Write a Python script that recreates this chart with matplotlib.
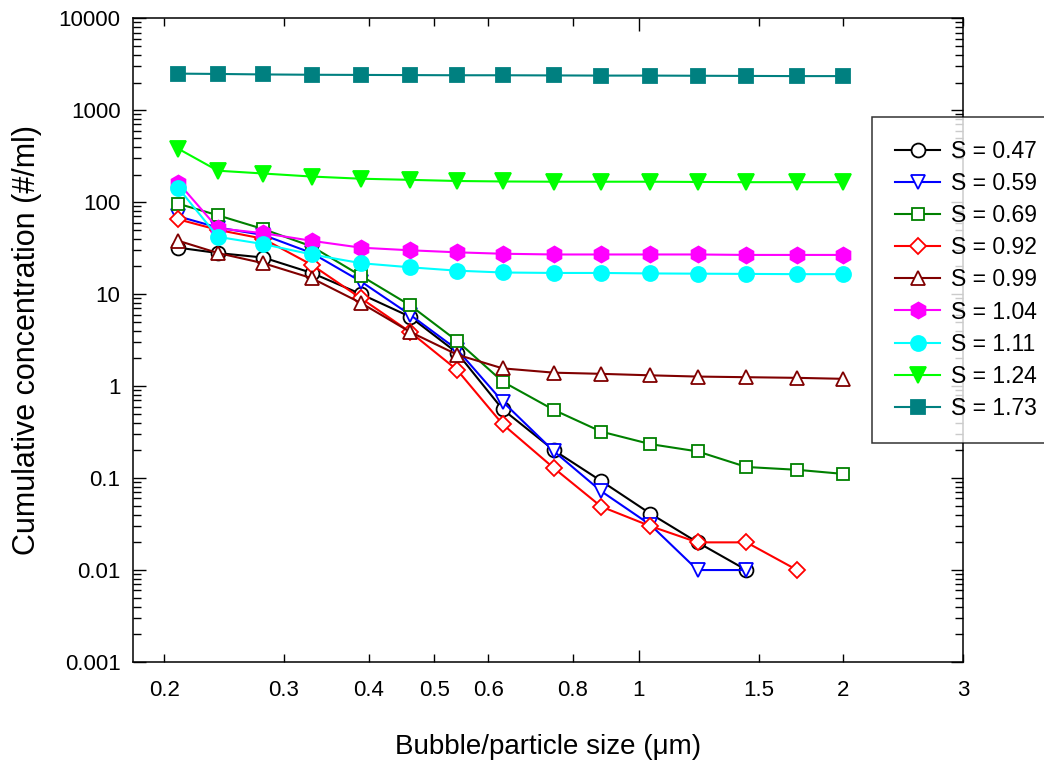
import matplotlib
matplotlib.use("Agg")
import matplotlib.pyplot as plt
from matplotlib.ticker import FixedLocator, FixedFormatter, LogLocator, NullFormatter

plt.rcParams['font.family'] = ['Liberation Sans', 'DejaVu Sans']

# bubble/particle size (um)
size = [0.21, 0.24, 0.28, 0.33, 0.39, 0.46, 0.54, 0.63, 0.75, 0.88, 1.04, 1.22, 1.44, 1.71, 2.0]

s047 = [32, 28, 25, 17, 10, 5.7, 2.3, 0.56, 0.2, 0.093, 0.041, 0.02, 0.01]
s059 = [70, 53, 44, 28, 13.7, 6.0, 2.5, 0.68, 0.195, 0.072, 0.031, 0.01, 0.01]
s069 = [96, 72, 51, 33, 15.8, 7.6, 3.1, 1.12, 0.55, 0.32, 0.234, 0.195, 0.132, 0.123, 0.111]
s092 = [65, 50, 40, 20.8, 9, 3.9, 1.5, 0.386, 0.128, 0.049, 0.030, 0.020, 0.020, 0.010]
s099 = [38, 28, 21.7, 14.9, 8, 3.9, 2.2, 1.56, 1.4, 1.36, 1.31, 1.27, 1.25, 1.23, 1.2]
s104 = [162, 52, 46, 38, 32, 30, 28.5, 27.5, 27, 27, 27, 27, 26.7, 26.7, 26.7]
s111 = [142, 42, 35, 27, 21.7, 19.6, 18, 17.2, 17, 17, 16.8, 16.7, 16.6, 16.5, 16.5]
s124 = [380, 220, 205, 190, 180, 175, 170, 168, 167, 167, 167, 166, 165, 165, 165]
s173 = [2500, 2480, 2450, 2430, 2420, 2410, 2400, 2400, 2390, 2380, 2380, 2370, 2360, 2350, 2350]

labels = ["S = 0.47", "S = 0.59", "S = 0.69", "S = 0.92", "S = 0.99",
          "S = 1.04", "S = 1.11", "S = 1.24", "S = 1.73"]

xtick_vals = [0.2, 0.3, 0.4, 0.5, 0.6, 0.8, 1, 1.5, 2, 3]
xtick_text = ["0.2", "0.3", "0.4", "0.5", "0.6", "0.8", "1", "1.5", "2", "3"]
ytick_vals = [0.001, 0.01, 0.1, 1, 10, 100, 1000, 10000]
ytick_text = ["0.001", "0.01", "0.1", "1", "10", "100", "1000", "10000"]

fig = plt.figure(figsize=(10.44, 7.64), dpi=100)
ax = fig.add_axes([0.1274, 0.1335, 0.7950, 0.8426])

# (values, colour, marker, size, filled)
series = [
    (s047, 'black', 'o', 10, False),
    (s059, 'blue', 'v', 10, False),
    (s069, 'green', 's', 9.2, False),
    (s092, 'red', 'D', 8.3, False),
    (s099, '#800000', '^', 10, False),
    (s104, 'magenta', 'h', 11.5, True),
    (s111, 'cyan', 'o', 10.8, True),
    (s124, 'lime', 'v', 11.5, True),
    (s173, 'teal', 's', 9.4, True),
]

for (vals, col, mk, ms, filled), lab in zip(series, labels):
    ax.plot(size[:len(vals)], vals, color=col, marker=mk, markersize=ms,
            markerfacecolor=col if filled else 'white', markeredgecolor=col,
            markeredgewidth=1.3, linewidth=1.5, label=lab)

ax.set_xscale('log')
ax.set_yscale('log')
ax.set_xlim(0.18, 3)
ax.set_ylim(0.001, 10000)

# only 1 is a long tick on the x axis, the rest are short
ax.xaxis.set_major_locator(FixedLocator([1]))
ax.xaxis.set_major_formatter(FixedFormatter(["1"]))
minor_x = [v for v in xtick_vals if v != 1]
ax.xaxis.set_minor_locator(FixedLocator(minor_x))
ax.xaxis.set_minor_formatter(FixedFormatter([t for v, t in zip(xtick_vals, xtick_text) if v != 1]))

ax.yaxis.set_major_locator(FixedLocator(ytick_vals))
ax.yaxis.set_major_formatter(FixedFormatter(ytick_text))
ax.yaxis.set_minor_locator(LogLocator(base=10, subs=range(2, 10), numticks=20))
ax.yaxis.set_minor_formatter(NullFormatter())

ax.tick_params(which='both', direction='in', top=True, right=True, labelsize=16, width=1)
ax.tick_params(which='major', length=9, pad=9)
ax.tick_params(which='minor', length=6, pad=9)
ax.tick_params(axis='x', which='both', pad=13)

for sp in ax.spines.values():
    sp.set_linewidth(1.1)

ax.set_xlabel("Bubble/particle size (μm)", fontsize=20, labelpad=24)
ax.set_ylabel("Cumulative concentration (#/ml)", fontsize=22, labelpad=12)

leg = ax.legend(loc='upper left', bbox_to_anchor=(0.890, 0.847), borderaxespad=0,
                fontsize=16.5, frameon=True, fancybox=False, edgecolor='black',
                handlelength=2.0, handletextpad=0.45, labelspacing=0.4,
                borderpad=1.0)
leg.get_frame().set_linewidth(1.1)

fig.savefig("out.png", dpi=100)
